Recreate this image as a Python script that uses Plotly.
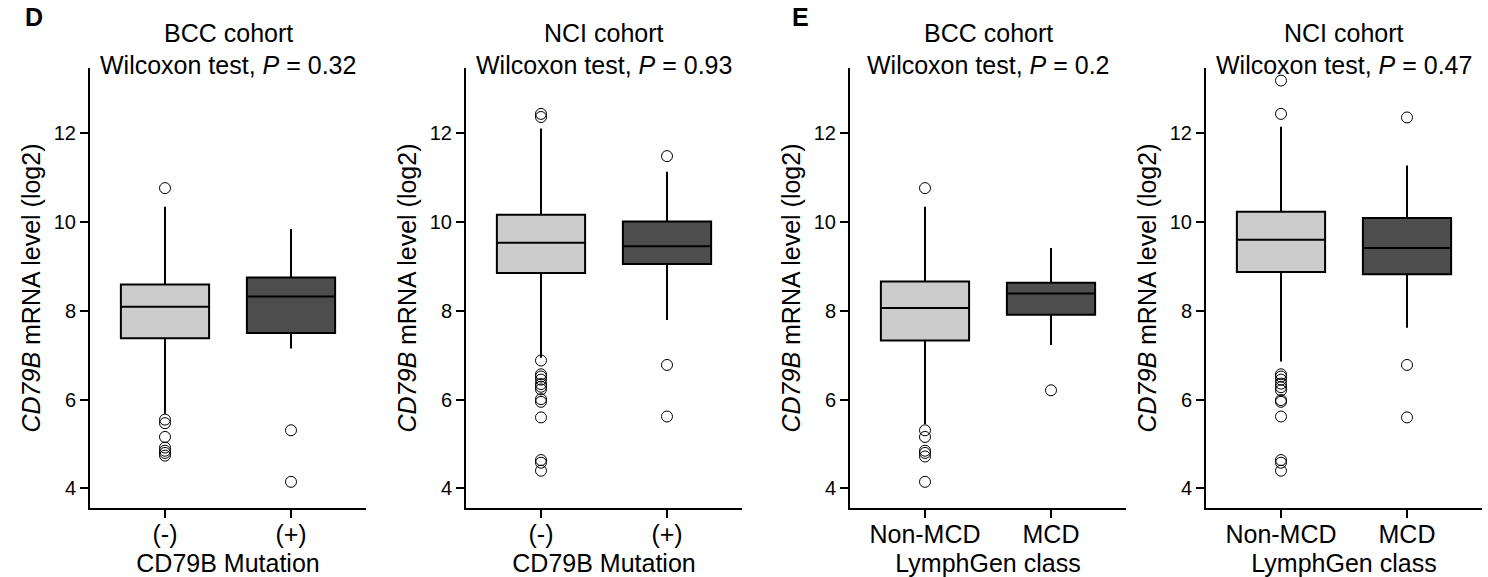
import plotly.graph_objects as go

# ---------------- data ----------------
mut_labels = ["(-)", "(+)"]
lg_labels = ["Non-MCD", "MCD"]

# Panel D, BCC cohort (CD79B mutation)
d_bcc_lower = [5.68, 7.15]
d_bcc_q1 = [7.38, 7.50]
d_bcc_median = [8.09, 8.32]
d_bcc_q3 = [8.59, 8.75]
d_bcc_upper = [10.34, 9.84]
d_bcc_out_neg = [10.76, 5.55, 5.47, 5.16, 4.92, 4.85, 4.80, 4.74]
d_bcc_out_pos = [5.31, 4.15]

# Panel D, NCI cohort (CD79B mutation)
d_nci_lower = [6.94, 7.79]
d_nci_q1 = [8.85, 9.05]
d_nci_median = [9.53, 9.45]
d_nci_q3 = [10.16, 10.01]
d_nci_upper = [12.10, 11.13]
d_nci_out_neg = [12.43, 12.36, 6.88, 6.57, 6.52, 6.45, 6.35, 6.29, 6.23, 6.01, 5.95, 5.60, 4.64, 4.58, 4.40]
d_nci_out_pos = [11.48, 6.78, 5.62]

# Panel E, BCC cohort (LymphGen class)
e_bcc_lower = [5.45, 7.23]
e_bcc_q1 = [7.33, 7.91]
e_bcc_median = [8.06, 8.39]
e_bcc_q3 = [8.66, 8.63]
e_bcc_upper = [10.34, 9.41]
e_bcc_out_non = [10.76, 5.31, 5.16, 4.85, 4.80, 4.72, 4.15]
e_bcc_out_mcd = [6.21]

# Panel E, NCI cohort (LymphGen class)
e_nci_lower = [6.86, 7.62]
e_nci_q1 = [8.87, 8.82]
e_nci_median = [9.60, 9.41]
e_nci_q3 = [10.23, 10.09]
e_nci_upper = [12.14, 11.27]
e_nci_out_non = [13.18, 12.43, 6.57, 6.52, 6.45, 6.36, 6.28, 6.21, 5.99, 5.95, 5.62, 4.64, 4.58, 4.40]
e_nci_out_mcd = [12.35, 6.78, 5.60]

cohort_titles = ["BCC cohort", "NCI cohort", "BCC cohort", "NCI cohort"]
p_values = ["0.32", "0.93", "0.2", "0.47"]
x_titles = ["CD79B Mutation", "CD79B Mutation", "LymphGen class", "LymphGen class"]
panel_letters = ["D", "E"]
y_title = "<i>CD79B</i> mRNA level (log2)"
y_ticks = [4, 6, 8, 10, 12]

fill_colors = ["#cccccc", "#4d4d4d"]

panels = [
    dict(cats=mut_labels, lower=d_bcc_lower, q1=d_bcc_q1, med=d_bcc_median, q3=d_bcc_q3,
         upper=d_bcc_upper, outs=[d_bcc_out_neg, d_bcc_out_pos]),
    dict(cats=mut_labels, lower=d_nci_lower, q1=d_nci_q1, med=d_nci_median, q3=d_nci_q3,
         upper=d_nci_upper, outs=[d_nci_out_neg, d_nci_out_pos]),
    dict(cats=lg_labels, lower=e_bcc_lower, q1=e_bcc_q1, med=e_bcc_median, q3=e_bcc_q3,
         upper=e_bcc_upper, outs=[e_bcc_out_non, e_bcc_out_mcd]),
    dict(cats=lg_labels, lower=e_nci_lower, q1=e_nci_q1, med=e_nci_median, q3=e_nci_q3,
         upper=e_nci_upper, outs=[e_nci_out_non, e_nci_out_mcd]),
]

# ---------------- layout geometry ----------------
W, H = 1488, 577
FONT = "Liberation Sans, Arial, Helvetica, sans-serif"
TXT = 25
xdom_px = [(90, 366), (466, 742), (850, 1126), (1206, 1482)]
ydom = [69 / H, 509 / H]
y_range = [3.561, 13.463]

fig = go.Figure()
layout = dict(
    width=W, height=H,
    margin=dict(l=0, r=0, t=0, b=0),
    paper_bgcolor="white", plot_bgcolor="white",
    showlegend=False,
    font=dict(family=FONT, color="black", size=TXT),
    boxmode="overlay",
)
annotations = []

for i, p in enumerate(panels):
    xa = "x" if i == 0 else f"x{i + 1}"
    ya = "y" if i == 0 else f"y{i + 1}"
    for j in range(2):
        cat = p["cats"][j]
        fig.add_trace(go.Box(
            x=[cat], q1=[p["q1"][j]], median=[p["med"][j]], q3=[p["q3"][j]],
            lowerfence=[p["lower"][j]], upperfence=[p["upper"][j]],
            fillcolor=fill_colors[j], line=dict(color="black", width=2),
            whiskerwidth=0, width=0.7, boxpoints=False,
            xaxis=xa, yaxis=ya, hoverinfo="skip", showlegend=False,
        ))
        outs = p["outs"][j]
        fig.add_trace(go.Scatter(
            x=[cat] * len(outs), y=outs, mode="markers",
            marker=dict(symbol="circle-open", size=11, color="black", line=dict(width=1)),
            xaxis=xa, yaxis=ya, hoverinfo="skip", showlegend=False,
        ))

    x0, x1 = xdom_px[i]
    key = "" if i == 0 else str(i + 1)
    layout["xaxis" + key] = dict(
        domain=[x0 / W, x1 / W], anchor=ya,
        type="category", categoryorder="array", categoryarray=p["cats"],
        range=[-0.595, 1.595],
        showline=True, linecolor="black", linewidth=2, mirror=False,
        ticks="outside", ticklen=8, tickwidth=2, tickcolor="black",
        ticklabelstandoff=-5,
        tickfont=dict(size=TXT, family=FONT, color="black"),
        title=dict(text=x_titles[i], font=dict(size=TXT, family=FONT, color="black"), standoff=9),
        showgrid=False, zeroline=False, automargin=False, fixedrange=True,
    )
    layout["yaxis" + key] = dict(
        domain=ydom, anchor=xa, range=y_range,
        tickmode="array", tickvals=y_ticks,
        showline=True, linecolor="black", linewidth=2, mirror=False,
        ticks="outside", ticklen=8, tickwidth=2, tickcolor="black",
        tickfont=dict(size=20, family=FONT, color="black"),
        title=dict(text=y_title, font=dict(size=TXT, family=FONT, color="black"), standoff=6),
        showgrid=False, zeroline=False, automargin=False, fixedrange=True,
    )
    xc = (x0 + x1) / 2 / W
    annotations.append(dict(
        text=cohort_titles[i], x=xc, y=1 - 33 / H, xref="paper", yref="paper",
        xanchor="center", yanchor="middle", showarrow=False,
        font=dict(size=TXT, family=FONT, color="black"),
    ))
    annotations.append(dict(
        text=f"Wilcoxon test, <i>P</i> = {p_values[i]}", x=xc, y=1 - 65 / H,
        xref="paper", yref="paper", xanchor="center", yanchor="middle", showarrow=False,
        font=dict(size=TXT, family=FONT, color="black"),
    ))

for letter, xpx in zip(panel_letters, [34, 800]):
    annotations.append(dict(
        text=f"<b>{letter}</b>", x=xpx / W, y=1 - 17 / H, xref="paper", yref="paper",
        xanchor="center", yanchor="middle", showarrow=False,
        font=dict(size=25, family=FONT, color="black"),
    ))

layout["annotations"] = annotations
fig.update_layout(**layout)
fig.write_html("out.html")
